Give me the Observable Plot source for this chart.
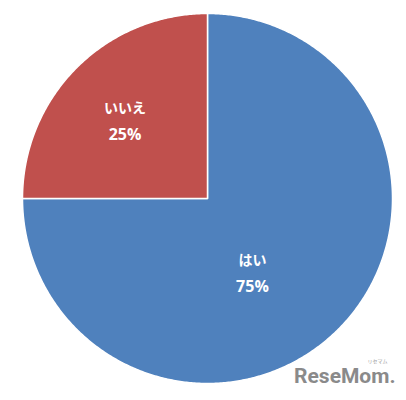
<!DOCTYPE html>
<html><head><meta charset="utf-8">
<script src="https://cdn.jsdelivr.net/npm/d3@7"></script>
<script src="https://cdn.jsdelivr.net/npm/@observablehq/plot@0.6"></script>
<style>
html,body{margin:0;padding:0;background:#fff;}
#chart{position:relative;width:406px;height:400px;}
</style>
</head><body><div id="chart"></div>
<script>
const categories = ["はい", "いいえ"];
const values = [75, 25];
const colors = ["#4F81BD", "#C0504D"];

const total = d3.sum(values);
// build slice polygons (clockwise from 12 o'clock)
const slicePts = [];
let acc = 0;
categories.forEach((c, i) => {
  const a0 = acc / total * 2 * Math.PI;
  acc += values[i];
  const a1 = acc / total * 2 * Math.PI;
  const n = Math.max(4, Math.ceil((a1 - a0) / (Math.PI / 360)));
  slicePts.push({cat: c, x: 0, y: 0});
  for (let k = 0; k <= n; k++) {
    const a = a0 + (a1 - a0) * k / n;
    slicePts.push({cat: c, x: Math.sin(a), y: Math.cos(a)});
  }
  slicePts.push({cat: c, x: 0, y: 0});
});

// label offsets (in unit-radius coords) per category, tuned to reference
const labelPos = {"はい": [0.243, -0.408], "いいえ": [-0.446, 0.415]};
const labels = categories.map((c, i) => ({
  cat: c, pct: Math.round(values[i] / total * 100) + "%",
  x: labelPos[c][0], y: labelPos[c][1]
}));

const plot = Plot.plot({
  width: 406, height: 400,
  marginLeft: 22, marginRight: 14, marginTop: 13, marginBottom: 17,
  x: {domain: [-1, 1], axis: null},
  y: {domain: [-1, 1], axis: null},
  color: {domain: categories, range: colors},
  style: {fontFamily: "'Noto Sans CJK JP', 'Noto Sans', sans-serif"},
  marks: [
    Plot.line(slicePts, {x: "x", y: "y", z: "cat", fill: "cat", stroke: "#ffffff", strokeWidth: 1.5, curve: "linear-closed"}),
    Plot.text(labels, {x: "x", y: "y", text: "cat", dy: -13, fill: "white", fontWeight: "bold", fontSize: 14}),
    Plot.text(labels, {x: "x", y: "y", text: "pct", dy: 13, fill: "white", fontWeight: "bold", fontSize: 16, fontFamily: "'Open Sans', 'Noto Sans', sans-serif"}),
    Plot.text(["ReseMom."], {frameAnchor: "bottom-right", dx: 3, dy: -1, textAnchor: "end", fill: "#8a8a8a", fontWeight: "bold", fontSize: 21, fontFamily: "Roboto, 'DejaVu Sans', sans-serif"}),
    Plot.text(["リセマム"], {frameAnchor: "bottom-right", dx: -5, dy: -21, textAnchor: "end", fill: "#999", fontSize: 5})
  ]
});
document.getElementById("chart").appendChild(plot);
</script>
</body></html>
